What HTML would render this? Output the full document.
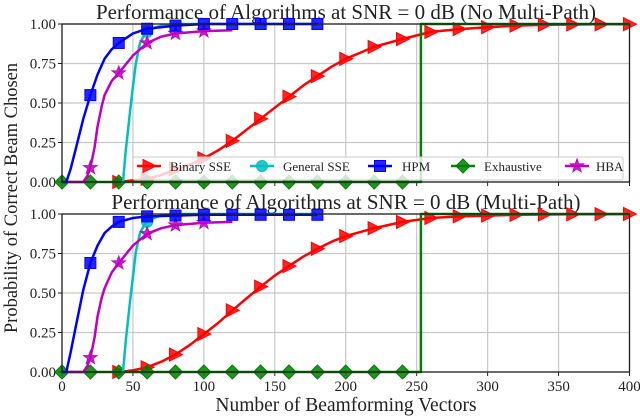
<!DOCTYPE html>
<html><head><meta charset="utf-8"><style>
body{margin:0;background:#fff}
svg{display:block}
text{font-family:"Liberation Serif","DejaVu Serif",serif;fill:#222}
</style></head><body>
<svg id="chart" width="640" height="417" viewBox="0 0 640 417"></svg>
<script>
const xTicks=[0,50,100,150,200,250,300,350,400];
const yTicks=[0,0.25,0.5,0.75,1];
const yTickLabels=["0.00","0.25","0.50","0.75","1.00"];
const titles=["Performance of Algorithms at SNR = 0 dB (No Multi-Path)","Performance of Algorithms at SNR = 0 dB (Multi-Path)"];
const binX=[36,40,50,60,70,80,90,100,110,120,130,140,150,160,170,180,190,200,220,240,260,280,300,320,340,360,380,400];
const binTop=[0,0.0,0.01,0.02,0.045,0.08,0.11,0.15,0.2,0.26,0.33,0.40,0.47,0.54,0.61,0.67,0.73,0.78,0.855,0.905,0.95,0.968,0.98,0.99,0.995,0.997,0.998,0.999];
const binBot=[0,0.0,0.01,0.03,0.065,0.11,0.17,0.24,0.31,0.39,0.465,0.54,0.61,0.67,0.73,0.78,0.825,0.86,0.91,0.95,0.975,0.985,0.99,0.995,0.997,0.998,0.999,1.0];
const genX=[42,43,45,48,50,52,55,58,60,65,70,80,100,140,180];
const genTop=[0,0,0.2,0.45,0.6,0.75,0.88,0.93,0.95,0.975,0.99,1,1,1,1];
const genBot=[0,0,0.2,0.45,0.6,0.76,0.88,0.93,0.95,0.975,0.99,1,1,1,1];
const hpmX=[0,3,6,10,15,20,25,30,35,40,50,60,80,100,120,140,160,180];
const hpmTop=[0,0,0.08,0.22,0.4,0.55,0.68,0.78,0.84,0.88,0.94,0.97,0.99,1,1,1,1,1];
const hpmBot=[0,0,0.12,0.3,0.52,0.69,0.8,0.88,0.92,0.95,0.975,0.985,0.99,0.995,0.995,0.995,0.995,0.995];
const hbaX=[0,15,18,20,23,25,28,30,35,40,50,60,70,80,100,120];
const hbaTop=[0,0,0.04,0.09,0.22,0.35,0.48,0.55,0.64,0.69,0.8,0.88,0.92,0.94,0.955,0.96];
const hbaBot=[0,0,0.04,0.09,0.22,0.35,0.47,0.53,0.63,0.69,0.8,0.875,0.91,0.93,0.945,0.95];
const exhX=[0,20,40,60,80,100,120,140,160,180,200,220,240,253,253,400];
const exhY=[0,0,0,0,0,0,0,0,0,0,0,0,0,0,1,1];
const binMk=[40,60,80,100,120,140,160,180,200,220,240,260,280,300,320,340,360,380,400];
const genMk=[60];
const hpmMk=[20,40,60,80,100,120,140,160,180];
const hbaMk=[20,40,60,80,100];
const exhMk=[0,20,40,60,80,100,120,140,160,180,200,220,240];

const svg=document.getElementById('chart');
const NS='http://www.w3.org/2000/svg';
const X0=62,X1=629.5;
const panels=[{top:24,bot:182},{top:214,bot:372}];
const sx=v=>X0+(v-0)/400*(X1-X0);
function mk(tag,attrs,parent){const e=document.createElementNS(NS,tag);for(const k in attrs)e.setAttribute(k,attrs[k]);(parent||svg).appendChild(e);return e;}
function interp(xs,ys,x){for(let i=0;i<xs.length-1;i++){if(x>=xs[i]&&x<=xs[i+1]){const t=xs[i+1]===xs[i]?1:(x-xs[i])/(xs[i+1]-xs[i]);return ys[i]+t*(ys[i+1]-ys[i]);}}return ys[ys.length-1];}
function marker(g,type,x,y,color){
  let e;
  if(type==='tri'){e=mk('polygon',{points:`${x-6},${y-6.5} ${x+7},${y} ${x-6},${y+6.5}`},g);}
  else if(type==='circ'){e=mk('circle',{cx:x,cy:y,r:5.5},g);}
  else if(type==='sq'){e=mk('rect',{x:x-5.5,y:y-5.5,width:11,height:11},g);}
  else if(type==='dia'){e=mk('polygon',{points:`${x},${y-7} ${x+7},${y} ${x},${y+7} ${x-7},${y}`},g);}
  else {let p=[];for(let i=0;i<10;i++){const r=i%2?2.8:7;const a=-Math.PI/2+i*Math.PI/5;p.push((x+r*Math.cos(a)).toFixed(1)+','+(y+r*Math.sin(a)).toFixed(1));}e=mk('polygon',{points:p.join(' ')},g);}
  e.setAttribute('fill',color);e.setAttribute('fill-opacity','0.85');e.setAttribute('stroke',color);e.setAttribute('stroke-width','1');
  
  
}
const series=[
 {name:'binary-sse',xs:binX,ys:[binTop,binBot],mks:binMk,color:'#ff0000',type:'tri'},
 {name:'exhaustive',xs:exhX,ys:[exhY,exhY],mks:exhMk,color:'#008000',type:'dia'},
 {name:'general-sse',xs:genX,ys:[genTop,genBot],mks:genMk,color:'#00bfbf',type:'circ'},
 {name:'hba',xs:hbaX,ys:[hbaTop,hbaBot],mks:hbaMk,color:'#bf00bf',type:'star'},
 {name:'hpm',xs:hpmX,ys:[hpmTop,hpmBot],mks:hpmMk,color:'#0000ff',type:'sq'}
];
panels.forEach((p,pi)=>{
  const sy=v=>p.bot-v*(p.bot-p.top);
  const g=mk('g',{});
  
  
  const t=mk('text',{x:346,y:p.top-5,'text-anchor':'middle','font-size':'21'},g);t.textContent=titles[pi];
  
  xTicks.forEach(v=>{const l=mk('line',{x1:sx(v),x2:sx(v),y1:p.top,y2:p.bot,stroke:'#c8c8c8','stroke-width':1.2},g);
    
    mk('line',{x1:sx(v),x2:sx(v),y1:p.bot,y2:p.bot+4,stroke:'#222','stroke-width':1},g);
    if(pi===1){const tl=mk('text',{x:sx(v),y:p.bot+19,'text-anchor':'middle','font-size':'15'},g);tl.textContent=v;
      }});
  yTicks.forEach((v,i)=>{const l=mk('line',{x1:X0,x2:X1,y1:sy(v),y2:sy(v),stroke:'#c8c8c8','stroke-width':1.2},g);
    
    mk('line',{x1:X0-4,x2:X0,y1:sy(v),y2:sy(v),stroke:'#222','stroke-width':1},g);
    const tl=mk('text',{x:X0-6,y:sy(v)+5,'text-anchor':'end','font-size':'15'},g);tl.textContent=yTickLabels[i];
    });
  series.forEach(s=>{
    const sg=mk('g',{},g);
    
    const ys=s.ys[pi];
    const pts=s.xs.map((x,i)=>sx(x).toFixed(1)+','+sy(ys[i]).toFixed(1)).join(' ');
    mk('polyline',{points:pts,fill:'none',stroke:s.color,'stroke-width':2.5,'stroke-linejoin':'round'},sg);
    s.mks.forEach(x=>marker(sg,s.type,sx(x),sy(interp(s.xs,ys,x)),s.color));
  });
  const fr=mk('rect',{x:X0,y:p.top,width:X1-X0,height:p.bot-p.top,fill:'none',stroke:'#222','stroke-width':1.3},g);
  
});
const lg=mk('g',{});


mk('rect',{x:133,y:157,width:490,height:23,fill:'#fff','fill-opacity':0.8,stroke:'#ccc','stroke-width':1,rx:2},lg);
const legItems=[[0,'Binary SSE',137,170],[2,'General SSE',250,283],[4,'HPM',368,402],[1,'Exhaustive',451,484],[3,'HBA',565,596]];
legItems.forEach(([si,label,lx,tx])=>{
  const s=series[si];
  const eg=mk('g',{},lg);
  
  mk('line',{x1:lx,x2:lx+24,y1:166,y2:166,stroke:s.color,'stroke-width':2.5},eg);
  marker(eg,s.type,lx+12,166,s.color);
  const t=mk('text',{x:tx,y:171,'font-size':'13'},eg);t.textContent=label;
});
const xl=mk('text',{x:346,y:411,'text-anchor':'middle','font-size':'19.5'});xl.textContent='Number of Beamforming Vectors';

const yl=mk('text',{x:0,y:0,'text-anchor':'middle','font-size':'18.5',transform:'translate(17,198) rotate(-90)'});yl.textContent='Probability of Correct Beam Chosen';

</script>
</body></html>
